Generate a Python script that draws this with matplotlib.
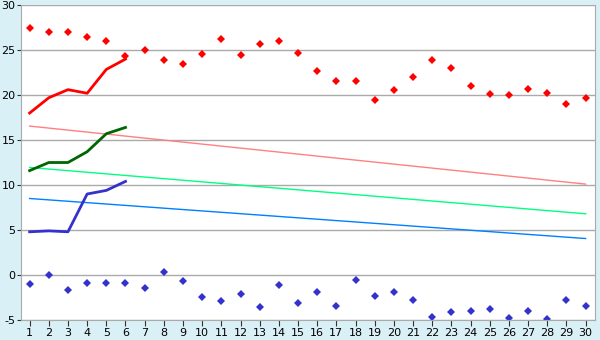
import numpy as np
import matplotlib.pyplot as plt

plt.rcParams['axes.unicode_minus'] = False

days = np.arange(1, 31)

# daily maxima / minima (markers)
t_max = [27.4, 27.0, 27.0, 26.4, 26.0, 24.3, 25.0, 23.85, 23.4, 24.6,
         26.2, 24.4, 25.7, 26.0, 24.7, 22.7, 21.6, 21.6, 19.5, 20.6,
         22.0, 23.85, 23.0, 21.0, 20.1, 20.0, 20.7, 20.2, 19.0, 19.7]
t_min = [-1.0, 0.0, -1.7, -0.9, -0.9, -0.9, -1.5, 0.3, -0.7, -2.5,
         -2.9, -2.1, -3.6, -1.15, -3.1, -1.9, -3.5, -0.6, -2.3, -1.9,
         -2.8, -4.7, -4.1, -4.0, -3.8, -4.8, -4.0, -4.9, -2.8, -3.5]

# first days (thick lines)
first_days = [1, 2, 3, 4, 5, 6]
line_max = [18.0, 19.7, 20.6, 20.2, 22.85, 24.0]
line_mean = [11.6, 12.5, 12.5, 13.7, 15.7, 16.4]
line_min = [4.8, 4.9, 4.8, 9.0, 9.4, 10.4]

# long-term normals (thin lines), start and end of month
norm_days = [1, 30]
norm_max = [16.55, 10.1]
norm_mean = [11.95, 6.8]
norm_min = [8.5, 4.05]

bg = '#daf0f7'
fig = plt.figure(figsize=(6, 3.4), dpi=100, facecolor=bg)
ax = fig.add_axes([0.035, 0.059, 0.957, 0.926])
ax.set_facecolor('white')

ax.plot(norm_days, norm_max, color='#ff8080', lw=1)
ax.plot(norm_days, norm_mean, color='#00ff80', lw=1)
ax.plot(norm_days, norm_min, color='#0080ff', lw=1)

ax.plot(first_days, line_max, color='#ff0000', lw=2)
ax.plot(first_days, line_mean, color='#006600', lw=2)
ax.plot(first_days, line_min, color='#3333cc', lw=2)

ax.plot(days, t_max, 'D', color='#ff0000', ms=3.8, mew=0)
ax.plot(days, t_min, 'D', color='#3333cc', ms=3.8, mew=0)

ax.set_xlim(0.55, 30.5)
ax.set_ylim(-5, 30)
ax.set_xticks(days)
ax.set_yticks(range(-5, 31, 5))
ax.yaxis.grid(True, color='#aaaaaa', lw=1)
ax.set_axisbelow(True)
for s in ax.spines.values():
    s.set_color('#aaaaaa')
ax.spines['top'].set_visible(False)
ax.tick_params(axis='both', direction='out', length=4, color='#333333',
               labelsize=8, pad=2)
ax.tick_params(axis='y', length=3, pad=1)

fig.savefig('out.png', facecolor=bg)
